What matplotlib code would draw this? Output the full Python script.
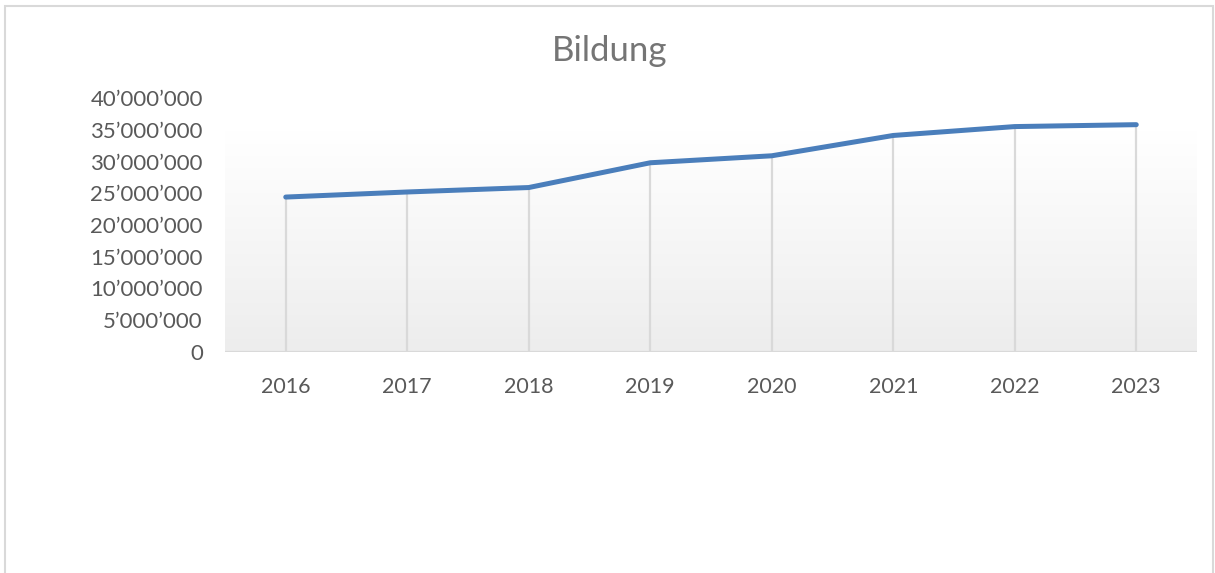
import matplotlib
matplotlib.use("Agg")
import matplotlib.pyplot as plt
import numpy as np
from matplotlib.patches import Rectangle
from matplotlib.ticker import FuncFormatter

years = ["2016", "2017", "2018", "2019", "2020", "2021", "2022", "2023"]
bildung = [24.4e6, 25.2e6, 25.9e6, 29.8e6, 30.9e6, 34.1e6, 35.5e6, 35.8e6]
y_ticks = [0, 5e6, 10e6, 15e6, 20e6, 25e6, 30e6, 35e6, 40e6]

plt.rcParams["font.family"] = ["Lato", "DejaVu Sans"]

W, H = 1215, 573
fig = plt.figure(figsize=(W / 100, H / 100), dpi=100)

# Rahmen um das Diagramm (unten abgeschnitten)
fig.patches.append(Rectangle((5 / W, -0.1), (1213 - 5) / W, (H - 6) / H + 0.1,
                             transform=fig.transFigure, fill=False,
                             edgecolor="#D9D9D9", linewidth=1.5))

ax = fig.add_axes([225 / W, 1 - 352 / H, (1197 - 225) / W, (352 - 98) / H])
x = np.arange(len(years))

# Verlauf im Hintergrund
grad = np.linspace(1.0, 0.0, 256).reshape(-1, 1)
cmap = matplotlib.colors.LinearSegmentedColormap.from_list("g", ["#EDEDED", "#FFFFFF"])
ax.imshow(grad, extent=(-0.5, len(years) - 0.5, 0, 34.8e6), aspect="auto",
          cmap=cmap, origin="upper", zorder=0, vmin=0, vmax=1)
ax.set_xlim(-0.5, len(years) - 0.5)
ax.set_ylim(0, 40e6)

# Fallinien
ax.vlines(x, 0, bildung, colors="#D9D9D9", linewidth=1.6, zorder=1)
ax.plot(x, bildung, color="#4A7EBB", linewidth=3.6, solid_capstyle="round",
        solid_joinstyle="round", zorder=3)
ax.axhline(0, color="#D9D9D9", linewidth=1.6, zorder=2)

for s in ax.spines.values():
    s.set_visible(False)
ax.set_facecolor("none")
ax.set_xticks(x)
ax.set_xticklabels(years)
ax.set_yticks(y_ticks)
ax.yaxis.set_major_formatter(FuncFormatter(lambda v, p: f"{int(v):,}".replace(",", "\u2019")))
ax.tick_params(axis="both", length=0, labelsize=15.5, labelcolor="#595959")
ax.tick_params(axis="y", labelsize=16, pad=16)
ax.tick_params(axis="x", pad=18)

fig.text(610 / W, 1 - 51 / H, "Bildung", ha="center", va="center",
         fontsize=25, color="#757575")

fig.savefig("out.png", dpi=100)
